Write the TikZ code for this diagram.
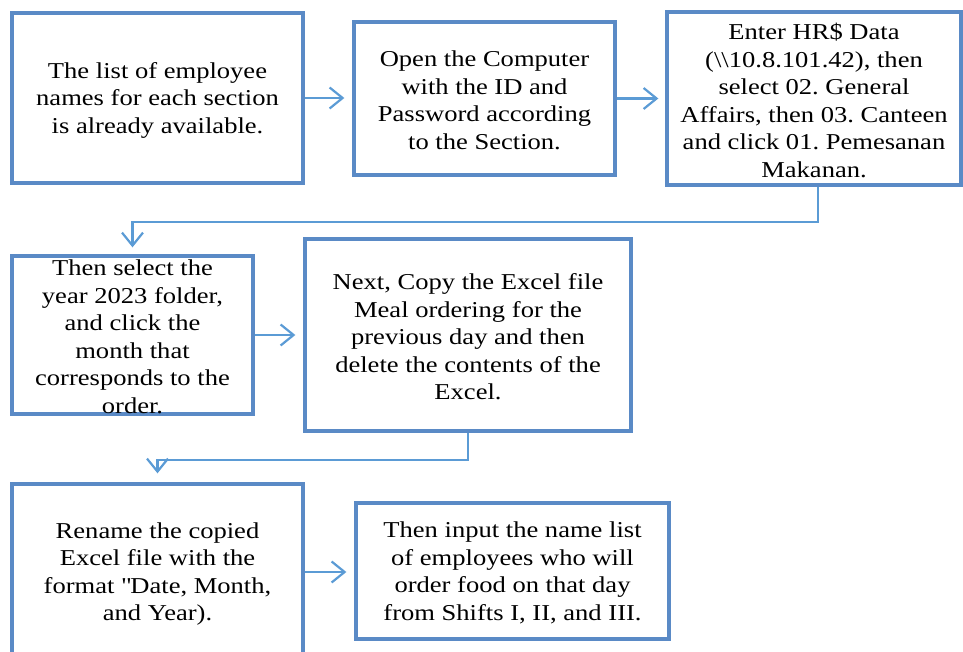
\documentclass[tikz,border=0pt]{standalone}
\usepackage{fontspec}
\setmainfont{Liberation Serif}[FakeStretch=1.17]
\usetikzlibrary{arrows.meta}
\definecolor{boxblue}{HTML}{5A8AC6}
\definecolor{linkblue}{HTML}{5B9BD5}
\begin{document}
\frenchspacing
\begin{tikzpicture}[x=1pt,y=-1pt,
 stepbox/.style={draw=boxblue, line width=3.3pt, fill=white, inner sep=0pt},
 steptext/.style={align=center, inner sep=0pt, font=\fontsize{22.7}{27.5}\selectfont},
 link/.style={draw=linkblue, line width=2.2pt, -{Straight Barb[length=13pt,width=21pt]}}
]
\useasboundingbox (0,0) rectangle (963,652);
\node[stepbox, minimum width=291pt, minimum height=170pt] (b1) at (157.5,98) {};
\node[stepbox, minimum width=261pt, minimum height=153pt] (b2) at (484.5,98.5) {};
\node[stepbox, minimum width=294pt, minimum height=173pt] (b3) at (814,98.5) {};
\node[stepbox, minimum width=241pt, minimum height=158pt] (b4) at (132.5,335) {};
\node[stepbox, minimum width=326pt, minimum height=192pt] (b5) at (468,335) {};
\node[stepbox, minimum width=291pt, minimum height=176pt] (b6) at (157.5,572) {};
\node[stepbox, minimum width=313pt, minimum height=136pt] (b7) at (512.5,571) {};

\node[steptext] (t1) at ([yshift=-2pt]b1.center) {The list of employee\\names for each section\\is already available.};
\node[steptext] (t2) at ([yshift=-2pt]b2.center) {Open the Computer\\with the ID and\\Password according\\to the Section.};
\node[steptext] (t3) at ([yshift=-2pt]b3.center) {Enter HR\$ Data\\(\textbackslash\textbackslash10.8.101.42), then\\select 02. General\\Affairs, then 03. Canteen\\and click 01. Pemesanan\\Makanan.};
\node[steptext] (t4) at ([yshift=-2pt]b4.center) {Then select the\\year 2023 folder,\\and click the\\month that\\corresponds to the\\order.};
\node[steptext] (t5) at ([yshift=-2pt]b5.center) {Next, Copy the Excel file\\Meal ordering for the\\previous day and then\\delete the contents of the\\Excel.};
\node[steptext] (t6) at ([yshift=-2pt]b6.center) {Rename the copied\\Excel file with the\\format \textquotedbl Date, Month,\\and Year).};
\node[steptext] (t7) at ([yshift=-2pt]b7.center) {Then input the name list\\of employees who will\\order food on that day\\from Shifts I, II, and III.};

\draw[link, shorten >=8pt] (b1.east) -- (b1.east -| b2.west);
\draw[link, shorten >=7pt] (b2.east) -- (b2.east -| b3.west);
\draw[link, shorten >=8pt] (b4.east) -- (b4.east -| b5.west);
\draw[link, shorten >=8pt] (b6.east) -- (b6.east -| b7.west);
\draw[link, shorten >=7pt] ([xshift=4pt]b3.south) -- ++(0,35) -| (b4.north);
\draw[link, shorten >=9pt] (b5.south) -- ++(0,27) -| (b6.north);
\end{tikzpicture}
\end{document}
